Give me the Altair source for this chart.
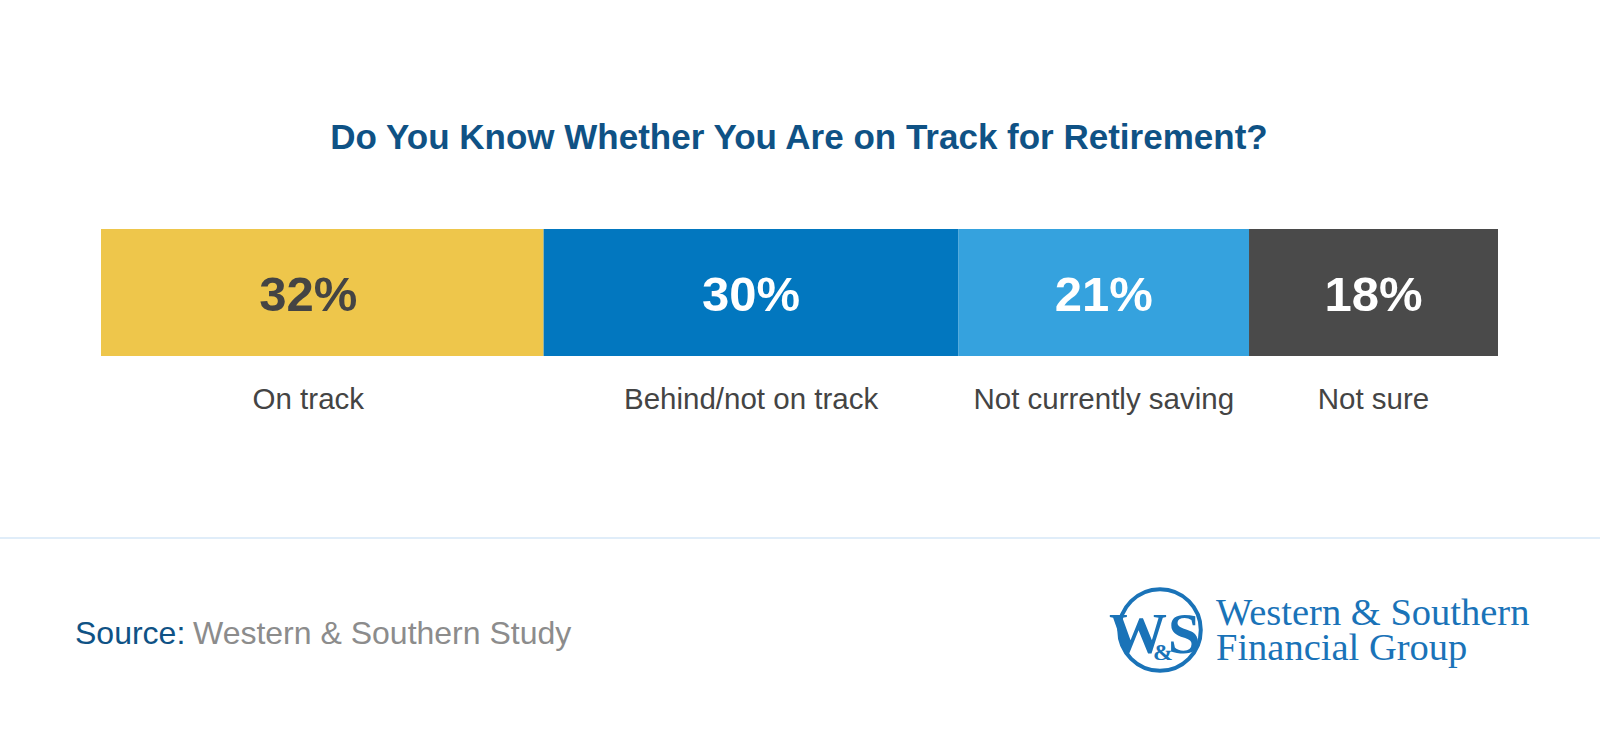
import altair as alt
import pandas as pd

categories = ["On track", "Behind/not on track", "Not currently saving", "Not sure"]
values = [32, 30, 21, 18]
colors = ["#eec64b", "#0277bf", "#35a2de", "#4a4a4a"]

title_text = "Do You Know Whether You Are on Track for Retirement?"
source_label = "Source:"
source_text = "Western & Southern Study"
logo_line1 = "Western & Southern"
logo_line2 = "Financial Group"

df = pd.DataFrame({"category": categories, "value": values, "order": list(range(len(values)))})

W, H = 1600, 734
xscale = alt.Scale(domain=[0, sum(values)], range=[101, 1498])

base = alt.Chart(df).transform_stack(
    stack="value", groupby=[], as_=["x0", "x1"], sort=[alt.SortField("order")]
).transform_calculate(
    mid="(datum.x0 + datum.x1) / 2", label="datum.value + '%'"
)

bars = base.mark_rect().encode(
    x=alt.X("x0:Q", scale=xscale, axis=None),
    x2="x1:Q",
    y=alt.value(229),
    y2=alt.value(356),
    color=alt.Color("category:N", scale=alt.Scale(domain=categories, range=colors), legend=None),
)

def pct_layer(filt, dx):
    return base.transform_filter(filt).mark_text(
        font="Liberation Sans", fontWeight="bold", fontSize=49, baseline="middle", align="center", dx=dx
    ).encode(
        x=alt.X("mid:Q", scale=xscale, axis=None),
        y=alt.value(296),
        text="label:N",
        color=alt.condition(alt.datum.category == categories[0], alt.value("#444444"), alt.value("#ffffff")),
    )

def cat_layer(filt, dx):
    return base.transform_filter(filt).mark_text(
        font="Liberation Sans", fontSize=29.5, baseline="middle", align="center", color="#444444", dx=dx
    ).encode(
        x=alt.X("mid:Q", scale=xscale, axis=None),
        y=alt.value(400),
        text="category:N",
    )

first = alt.datum.category == categories[0]
rest = alt.datum.category != categories[0]

def static_text(txt, x, y, **kw):
    return alt.Chart(pd.DataFrame({"t": [txt]})).mark_text(**kw).encode(
        x=alt.value(x), y=alt.value(y), text="t:N"
    )

title = static_text(title_text, 799, 138, font="Liberation Sans", fontWeight="bold", fontSize=35,
                    color="#0f5285", align="center", baseline="middle")

divider = alt.Chart(pd.DataFrame({"a": [0]})).mark_rule(color="#d6e7f7", strokeWidth=1.5).encode(
    x=alt.value(0), x2=alt.value(W), y=alt.value(538)
)

src1 = static_text(source_label, 75, 634, font="Liberation Sans", fontSize=32, color="#0f5285",
                   align="left", baseline="middle")
src2 = static_text(source_text, 193, 634, font="Liberation Sans", fontSize=32, color="#8c8c8c",
                   align="left", baseline="middle")

logo_blue = "#1a73b8"
circle = alt.Chart(pd.DataFrame({"a": [0]})).mark_point(
    shape="circle", filled=False, strokeWidth=4, color=logo_blue, opacity=1, size=6650
).encode(x=alt.value(1160), y=alt.value(630))

logo_w = static_text("W", 1138, 653, font="Liberation Serif", fontWeight="bold", fontSize=58,
                     color=logo_blue, align="center", baseline="alphabetic")
logo_s = static_text("S", 1184, 653, font="Liberation Serif", fontWeight="bold", fontSize=58,
                     color=logo_blue, align="center", baseline="alphabetic")
logo_amp = static_text("&", 1163, 660, font="Liberation Serif", fontWeight="bold", fontSize=24,
                       color=logo_blue, align="center", baseline="alphabetic")
logo_t1 = static_text(logo_line1, 1216, 625, font="Liberation Serif", fontSize=38.5,
                      color=logo_blue, align="left", baseline="alphabetic")
logo_t2 = static_text(logo_line2, 1216, 660, font="Liberation Serif", fontSize=38.5,
                      color=logo_blue, align="left", baseline="alphabetic")

chart = alt.layer(
    bars,
    pct_layer(first, -14), pct_layer(rest, 0),
    cat_layer(first, -14), cat_layer(rest, 0),
    title, divider, src1, src2,
    circle, logo_w, logo_s, logo_amp, logo_t1, logo_t2,
).properties(
    width=W, height=H, autosize=alt.AutoSizeParams(type="none"), padding=0, background="#ffffff"
).configure_view(stroke=None)

chart.save("out.html", embed_options={"renderer": "svg", "actions": False})
